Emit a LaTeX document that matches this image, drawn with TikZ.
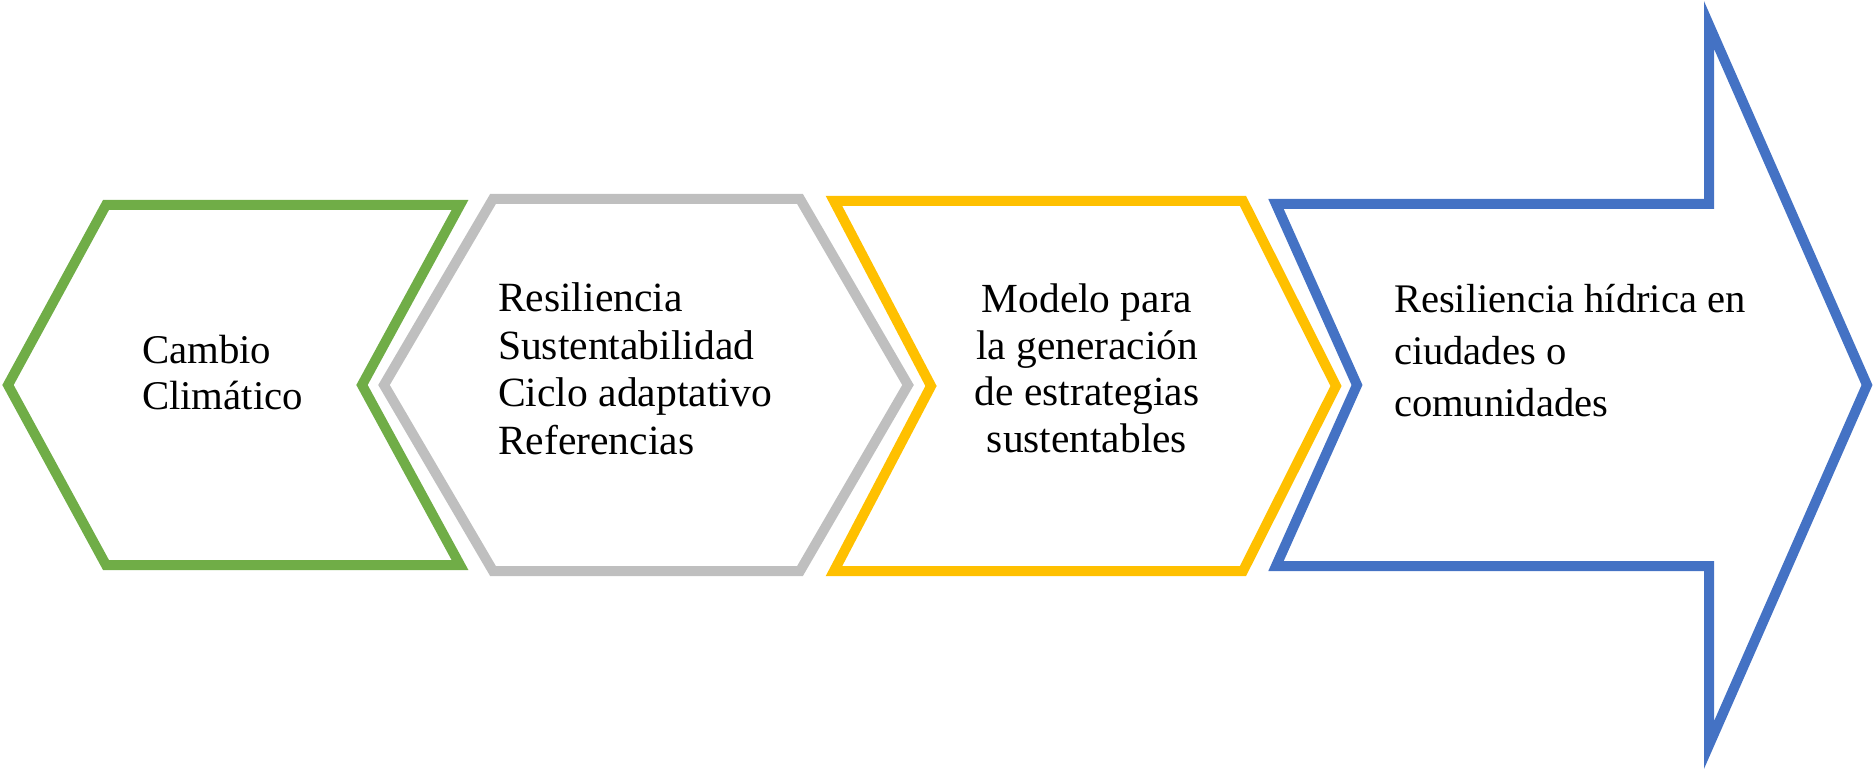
\documentclass[tikz,border=0pt]{standalone}
\usepackage{fontspec}
\setmainfont{Liberation Serif}
\definecolor{cgreen}{HTML}{70AD47}
\definecolor{cgray}{HTML}{BFBFBF}
\definecolor{cyellow}{HTML}{FFC000}
\definecolor{cblue}{HTML}{4472C4}
\begin{document}
\begin{tikzpicture}[x=0.5pt,y=-0.5pt,
  shapeline/.style={line width=5pt, line join=miter, miter limit=10},
  lbl/.style={inner sep=0pt, outer sep=0pt, text=black}]
\useasboundingbox (0,0) rectangle (1875,770);
% green chevron
\draw[shapeline, draw=cgreen] (106,205) -- (460,205) -- (362,385) -- (460,565) -- (106,565) -- (8,385) -- cycle;
% gray hexagon
\draw[shapeline, draw=cgray] (493,199) -- (800,199) -- (908,385) -- (800,571) -- (493,571) -- (384,385) -- cycle;
% yellow chevron
\draw[shapeline, draw=cyellow] (834,201) -- (1243,201) -- (1336,386) -- (1243,571) -- (834,571) -- (931,386) -- cycle;
% blue notched arrow
\draw[shapeline, draw=cblue] (1276,204) -- (1709,204) -- (1709,25) -- (1867,385) -- (1709,745) -- (1709,566) -- (1276,566) -- (1357,385) -- cycle;
% texts
\node[lbl, anchor=base west] (t1) at (142,364) {\fontsize{20.4pt}{23pt}\selectfont\begin{tabular}[t]{@{}l@{}}Cambio\\Climático\end{tabular}};
\node[lbl, anchor=base west] (t2) at (498,312) {\fontsize{20.8pt}{23.7pt}\selectfont\begin{tabular}[t]{@{}l@{}}Resiliencia\\Sustentabilidad\\Ciclo adaptativo\\Referencias\end{tabular}};
\node[lbl, anchor=base] (t3) at (1087,313) {\fontsize{20.7pt}{23.25pt}\selectfont\begin{tabular}[t]{@{}c@{}}Modelo para\\la generación\\de estrategias\\sustentables\end{tabular}};
\node[lbl, anchor=base west] (t4) at (1394,313) {\fontsize{20.3pt}{26pt}\selectfont\begin{tabular}[t]{@{}l@{}}Resiliencia hídrica en\\ciudades o\\comunidades\end{tabular}};
\end{tikzpicture}
\end{document}
